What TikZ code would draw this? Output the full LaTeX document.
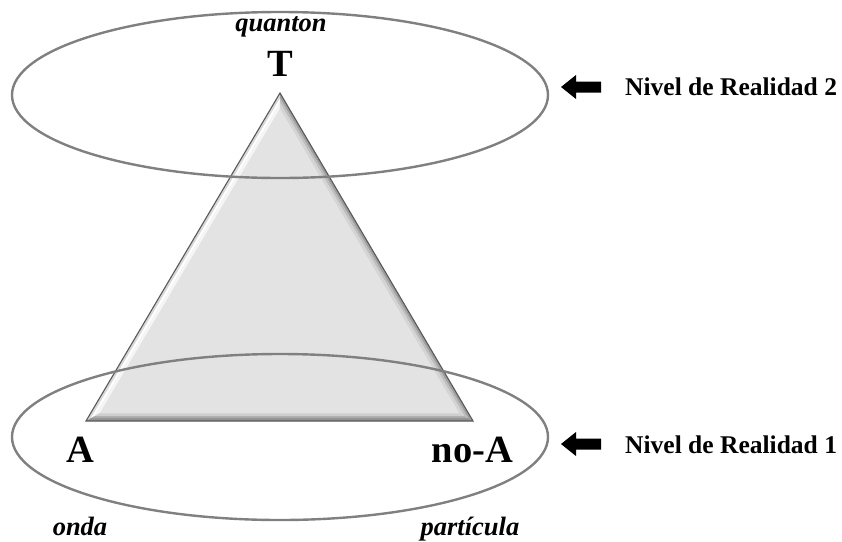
\documentclass[tikz,border=0pt]{standalone}
\usepackage{fontspec}
\setmainfont{Liberation Serif}
\usetikzlibrary{shapes.geometric,calc}
\begin{document}
\begin{tikzpicture}[x=1pt,y=-1pt,
  levelring/.style={ellipse, draw=black!50, line width=2.4pt, minimum width=536pt, minimum height=166pt, inner sep=0pt},
  biglabel/.style={font=\fontsize{38.5}{38.5}\selectfont\bfseries, inner sep=0pt, anchor=base},
  itlabel/.style={font=\fontsize{26.5}{26.5}\selectfont\bfseries\itshape, inner sep=0pt, anchor=base},
  levellabel/.style={font=\fontsize{25.5}{25.5}\selectfont\bfseries, inner sep=0pt, anchor=base west},
  blockarrow/.style={fill=black}]
\useasboundingbox (0,0) rectangle (842,541);
% triangle geometry
\coordinate (A) at (86,421);
\coordinate (B) at (473,421);
\coordinate (T) at (280,93);
\coordinate (I) at (279.75,310.5);
\foreach \p in {A,B,T}{
  \coordinate (\p1) at ($(I)!0.975!(\p)$);
  \coordinate (\p2) at ($(I)!0.955!(\p)$);
  \coordinate (\p3) at ($(I)!0.93!(\p)$);
}
\fill[gray!22] (A) -- (B) -- (T) -- cycle;
% left bevel (highlight)
\fill[gray!30] (A) -- (T) -- (T1) -- (A1) -- cycle;
\fill[white] (A1) -- (T1) -- (T2) -- (A2) -- cycle;
\fill[gray!8] (A2) -- (T2) -- (T3) -- (A3) -- cycle;
% right bevel (shadow)
\fill[gray!75] (T) -- (B) -- (B1) -- (T1) -- cycle;
\fill[gray!52] (T1) -- (B1) -- (B2) -- (T2) -- cycle;
\fill[gray!34] (T2) -- (B2) -- (B3) -- (T3) -- cycle;
% bottom bevel
\fill[gray!85] (A) -- (B) -- (B1) -- (A1) -- cycle;
\fill[gray!65] (A1) -- (B1) -- (B2) -- (A2) -- cycle;
\fill[gray!38] (A2) -- (B2) -- (B3) -- (A3) -- cycle;
\draw[black!65, line width=1.1pt, line join=miter] (A) -- (B) -- (T) -- cycle;
% level rings
\node[levelring] (lvltwo) at (280,95) {};
\node[levelring] (lvlone) at (280,437) {};
% labels
\node[itlabel] (quanton) at (281,31) {quanton};
\node[biglabel] (tlab) at (280,76) {T};
\node[biglabel] (alab) at (80.5,462) {A};
\node[biglabel] (noalab) at (472.5,462) {no-A};
\node[itlabel] (onda) at (80,535) {onda};
\node[itlabel] (particula) at (470,535) {partícula};
\node[levellabel] (nivtwo) at (625,95) {Nivel de Realidad 2};
\node[levellabel] (nivone) at (625,453) {Nivel de Realidad 1};
% block arrows
\foreach \c in {87,444}{
  \fill[blockarrow] (561,\c) -- (576,\c-12) -- (576,\c-5.5) -- (601,\c-5.5) -- (601,\c+5.5) -- (576,\c+5.5) -- (576,\c+12) -- cycle;
}
\end{tikzpicture}
\end{document}
